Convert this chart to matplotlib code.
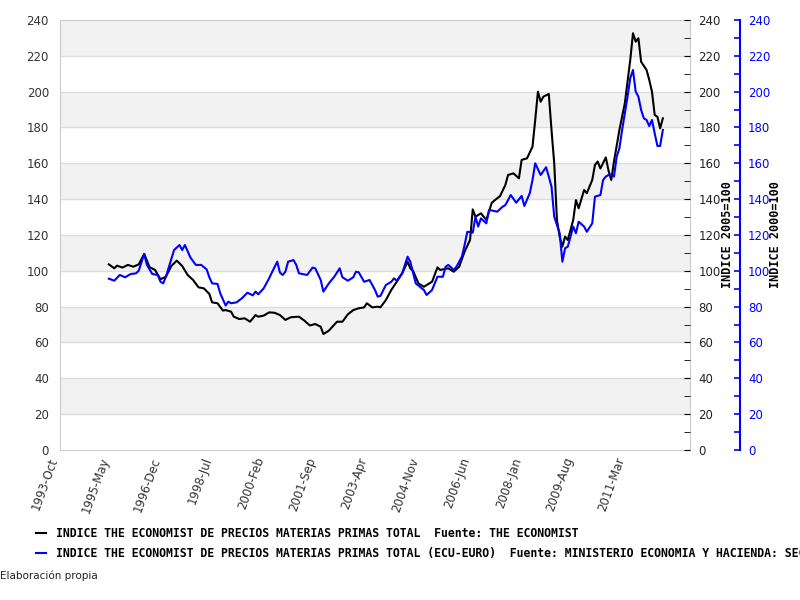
import matplotlib.pyplot as plt
from matplotlib.ticker import MultipleLocator

# month index counted from 1993-Oct (0)
tick_labels = ['1993-Oct', '1995-May', '1996-Dec', '1998-Jul', '2000-Feb', '2001-Sep',
               '2003-Apr', '2004-Nov', '2006-Jun', '2008-Jan', '2009-Aug', '2011-Mar']
tick_pos = [0, 19, 38, 57, 76, 95, 114, 133, 152, 171, 190, 209]

# INDICE THE ECONOMIST ... TOTAL (2005=100)
eco_m = [18, 20, 21, 23, 25, 27, 29, 31, 33, 35, 37, 39, 41, 43, 45, 47, 49, 51, 53, 55,
         56, 58, 60, 61, 63, 64, 66, 68, 70, 72, 73, 75, 77, 79, 81, 83, 85, 88, 90, 92,
         94, 96, 97, 99, 102, 104, 106, 108, 110, 112, 113, 115, 117, 118, 120, 122, 124, 126, 128, 129,
         130, 132, 134, 136, 137, 139, 140, 143, 145, 147, 149, 151, 152, 153, 155, 157, 159, 161, 162, 164,
         165, 167, 169, 170, 172, 174, 175, 176, 177, 178, 180, 181, 182, 183, 184, 185, 186, 187, 189, 190,
         191, 193, 194, 196, 197, 198, 199, 201, 202, 203, 204, 206, 208, 210, 211, 212, 213, 214, 216, 217,
         218, 219, 220, 221, 222]
eco_v = [103.6, 101.4, 102.9, 101.8, 103.3, 102.3, 103.6, 109.4, 102.0, 100.5, 95.3, 96.7, 102.7, 105.7, 102.7, 97.7, 94.9, 90.8, 90.2, 87.1,
         82.4, 81.9, 77.8, 78.1, 77.2, 74.4, 73.1, 73.5, 71.6, 75.3, 74.4, 75.0, 76.8, 76.6, 75.3, 72.6, 74.1, 74.4, 72.2, 69.5,
         70.3, 68.8, 64.7, 66.6, 71.6, 71.6, 75.7, 78.1, 79.1, 79.6, 81.9, 79.6, 80.0, 79.6, 83.7, 89.3, 93.9, 98.6, 105.1, 101.4,
         100.0, 93.0, 91.1, 93.0, 93.9, 101.9, 100.5, 101.4, 99.5, 102.3, 110.7, 117.2, 134.3, 130.2, 132.1, 128.4, 138.0, 140.5, 141.6, 147.9,
         153.5, 154.4, 151.6, 161.9, 162.8, 169.3, 184.2, 200.0, 194.4, 197.2, 198.7, 178.6, 160.0, 128.4, 119.1, 113.5, 119.1, 117.2, 128.4, 139.5,
         134.9, 145.1, 143.3, 150.7, 159.1, 161.0, 157.1, 163.3, 155.9, 150.7, 161.0, 178.6, 193.5, 217.7, 232.6, 227.9, 229.8, 216.7, 212.1, 206.5,
         200.0, 187.0, 186.0, 179.5, 185.1]

# INDICE THE ECONOMIST ... TOTAL (ECU-EURO) (2000=100)
eur_m = [18, 20, 22, 24, 26, 28, 29, 31, 32, 34, 36, 37, 38, 39, 42, 44, 45, 46, 48, 50,
         52, 54, 55, 56, 58, 59, 61, 62, 63, 65, 67, 69, 71, 72, 73, 75, 77, 78, 80, 81,
         82, 83, 84, 86, 87, 88, 91, 93, 94, 96, 97, 99, 101, 103, 104, 106, 108, 109, 110, 112,
         114, 116, 117, 118, 120, 122, 123, 124, 126, 128, 129, 131, 134, 135, 137, 139, 141, 142, 143, 145,
         146, 148, 149, 150, 152, 153, 154, 155, 157, 158, 161, 163, 164, 166, 168, 170, 171, 173, 174, 175,
         177, 179, 180, 181, 182, 184, 185, 186, 187, 189, 190, 191, 193, 194, 196, 197, 199, 200, 201, 202,
         203, 204, 205, 206, 207, 209, 210, 211, 212, 213, 214, 215, 216, 217, 218, 219, 220, 221, 222]
eur_v = [95.6, 94.5, 97.7, 96.4, 98.2, 98.6, 100.1, 109.4, 103.3, 98.2, 97.7, 93.9, 93.0, 96.7, 111.6, 114.4, 111.6, 114.4, 107.5, 103.3,
         103.3, 100.8, 96.4, 93.0, 92.7, 87.5, 80.6, 82.8, 81.9, 82.4, 84.7, 87.8, 86.3, 88.4, 86.9, 90.2, 95.8, 99.0, 105.1, 99.0,
         97.7, 99.5, 105.1, 106.0, 103.3, 98.6, 97.7, 101.8, 101.4, 94.9, 88.4, 93.0, 96.7, 101.4, 96.4, 94.5, 96.4, 99.5, 99.2, 93.9,
         94.9, 89.3, 85.6, 86.0, 92.1, 93.9, 95.8, 94.5, 98.6, 107.9, 105.1, 93.0, 89.3, 86.5, 89.3, 96.7, 96.7, 102.3, 103.3, 100.5,
         102.3, 107.9, 114.4, 121.8, 121.3, 130.2, 124.7, 129.3, 126.5, 134.0, 133.0, 135.8, 136.7, 142.3, 138.0, 141.8, 136.2, 143.3, 150.7, 160.0,
         153.5, 157.8, 152.6, 147.0, 130.2, 121.0, 105.1, 112.6, 113.5, 124.7, 121.0, 127.4, 124.7, 121.8, 126.5, 141.4, 142.3, 150.7, 152.6, 153.5,
         153.5, 152.6, 163.7, 168.4, 178.6, 197.2, 207.5, 212.1, 200.0, 197.2, 189.8, 185.1, 184.2, 180.8, 184.2, 176.7, 169.7, 169.7, 178.6]

label_eco = 'INDICE THE ECONOMIST DE PRECIOS MATERIAS PRIMAS TOTAL  Fuente: THE ECONOMIST'
label_eur = ('INDICE THE ECONOMIST DE PRECIOS MATERIAS PRIMAS TOTAL (ECU-EURO)  '
             'Fuente: MINISTERIO ECONOMIA Y HACIENDA: SECRETARIA DE ESTADO DE ECONOMIA')

fig = plt.figure(figsize=(8, 6), dpi=100)
ax = fig.add_axes([0.075, 0.25, 0.7875, 0.7167])

# alternating bands + grid
for lo in range(20, 240, 40):
    ax.axhspan(lo, lo + 20, color='#f2f2f2', zorder=0, lw=0)
for g in range(20, 240, 20):
    ax.axhline(g, color='#dddddd', lw=1, zorder=0.5)

l1, = ax.plot(eco_m, eco_v, color='black', lw=1.5, zorder=3)
ax.set_xlim(0, 232)
ax.set_ylim(0, 240)
ax.yaxis.set_major_locator(MultipleLocator(20))
ax.set_xticks(tick_pos)
ax.set_xticklabels(tick_labels, rotation=70, ha='right', fontsize=8.5, color='#333333')
ax.tick_params(axis='both', length=0, labelsize=8.5, labelcolor='#333333')
ax.tick_params(axis='y', pad=8)
ax.tick_params(axis='x', pad=4)
for s in ax.spines.values():
    s.set_color('#cccccc')

# right black axis
ax_r = ax.twinx()
ax_r.set_ylim(0, 240)
ax_r.yaxis.set_major_locator(MultipleLocator(20))
ax_r.yaxis.set_minor_locator(MultipleLocator(10))
ax_r.tick_params(axis='y', which='both', direction='in', length=4, color='black',
                 labelsize=8.5, labelcolor='#222222', pad=6)
for s in ax_r.spines.values():
    s.set_visible(False)
ax_r.set_ylabel('INDICE 2005=100', family='DejaVu Sans Mono', weight='bold', fontsize=8.5, labelpad=0)

# blue axis
ax_b = ax.twinx()
ax_b.spines['right'].set_position(('axes', 1.079))
for k in ['left', 'top', 'bottom']:
    ax_b.spines[k].set_visible(False)
ax_b.spines['right'].set_color('blue')
ax_b.spines['right'].set_linewidth(1.5)
l2, = ax_b.plot(eur_m, eur_v, color='blue', lw=1.5, zorder=3)
ax_b.set_ylim(0, 240)
ax_b.set_xlim(0, 232)
ax_b.yaxis.set_major_locator(MultipleLocator(20))
ax_b.yaxis.set_minor_locator(MultipleLocator(10))
ax_b.tick_params(axis='y', which='both', direction='in', length=4, color='blue', width=1.2,
                 labelsize=8.5, labelcolor='blue', pad=6)
ax_b.set_ylabel('INDICE 2000=100', family='DejaVu Sans Mono', weight='bold', fontsize=8.5, labelpad=-1)

leg = fig.legend([l1, l2], [label_eco, label_eur], loc='upper left',
                 bbox_to_anchor=(0.045, 1 - 527 / 600), frameon=False,
                 prop={'family': 'DejaVu Sans Mono', 'weight': 'bold', 'size': 8.3},
                 handlelength=0.85, handletextpad=0.9, labelspacing=0.6, borderpad=0, borderaxespad=0)

fig.text(0.0, 1 - 576 / 600, 'Elaboración propia', fontsize=7.5, va='center', ha='left', color='#222222')

fig.savefig('out.png', dpi=100)
